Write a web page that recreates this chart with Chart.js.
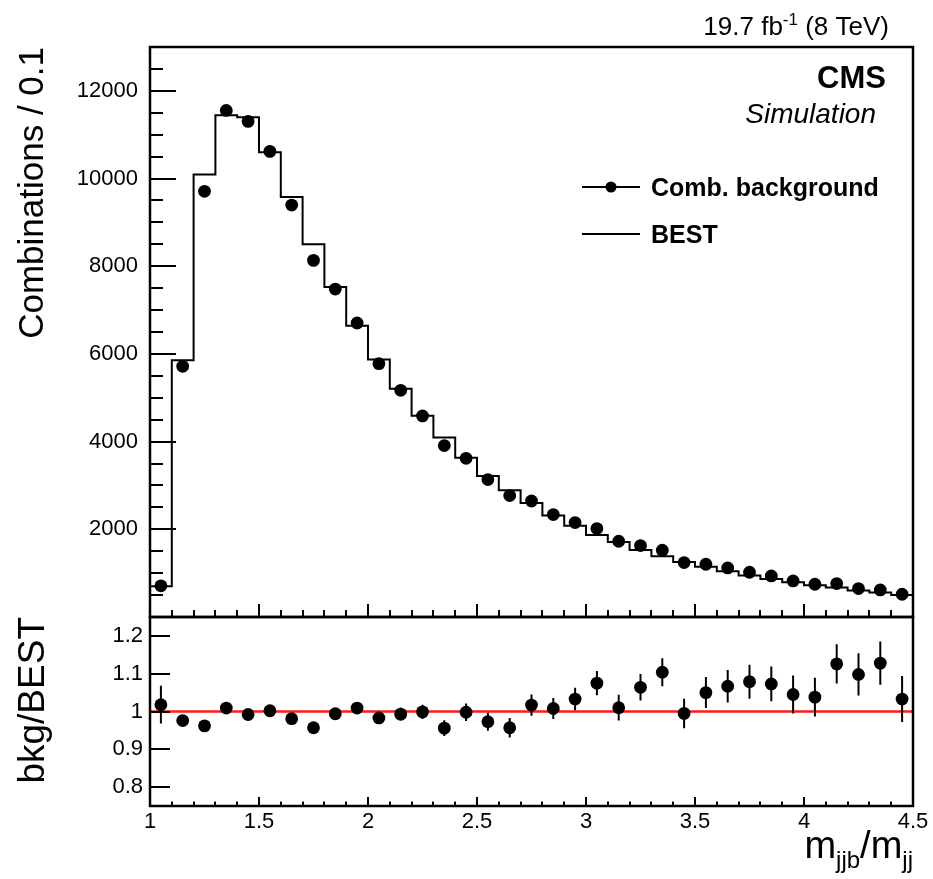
<!DOCTYPE html>
<html><head><meta charset="utf-8">
<script src="https://cdn.jsdelivr.net/npm/chart.js@4.4.1/dist/chart.umd.min.js"></script>
<style>
html,body{margin:0;padding:0;background:#fff;}
#wrap{position:relative;width:933px;height:879px;overflow:hidden;background:#fff;}
#wrap canvas{position:absolute;left:0;}
</style></head><body>
<div id="wrap">
<canvas id="cTop" width="933" height="625" style="top:0px"></canvas>
<canvas id="cBot" width="933" height="279" style="top:600px"></canvas>
</div>
<script>
// ---------------- data ----------------
const binEdges   = [1.0,1.1,1.2,1.3,1.4,1.5,1.6,1.7,1.8,1.9,2.0,2.1,2.2,2.3,2.4,2.5,2.6,2.7,2.8,2.9,3.0,3.1,3.2,3.3,3.4,3.5,3.6,3.7,3.8,3.9,4.0,4.1,4.2,4.3,4.4,4.5];
const binCenters = [1.05,1.15,1.25,1.35,1.45,1.55,1.65,1.75,1.85,1.95,2.05,2.15,2.25,2.35,2.45,2.55,2.65,2.75,2.85,2.95,3.05,3.15,3.25,3.35,3.45,3.55,3.65,3.75,3.85,3.95,4.05,4.15,4.25,4.35,4.45];
const bkgCounts  = [712,5718,9708,11554,11304,10620,9395,8134,7480,6705,5779,5170,4585,3910,3620,3134,2769,2646,2336,2154,2017,1728,1629,1522,1242,1203,1119,1021,937,822,747,763,649,617,519];
const bestCounts = [700,5856,10090,11445,11395,10598,9578,8503,7526,6640,5875,5203,4588,4095,3632,3218,2891,2601,2315,2080,1873,1711,1530,1383,1252,1144,1046,949,867,790,726,670,604,556,502];
const ratioValues = [1.018,0.976,0.962,1.009,0.992,1.002,0.981,0.957,0.994,1.009,0.983,0.993,0.999,0.956,0.998,0.973,0.957,1.017,1.008,1.033,1.075,1.010,1.064,1.104,0.995,1.050,1.067,1.079,1.073,1.045,1.038,1.126,1.098,1.128,1.033];
const ratioErrors = [0.050,0.013,0.011,0.011,0.011,0.011,0.012,0.013,0.014,0.015,0.016,0.017,0.019,0.021,0.023,0.024,0.026,0.028,0.028,0.030,0.032,0.034,0.035,0.037,0.039,0.041,0.043,0.045,0.046,0.050,0.051,0.052,0.056,0.057,0.061];
const countTicks = [2000,4000,6000,8000,10000,12000];
const ratioTicks = [0.8,0.9,1,1.1,1.2];
const massTicks  = [1,1.5,2,2.5,3,3.5,4,4.5];
const referenceLine = [1, 1];

const FONT = '"Liberation Sans", Arial, Helvetica, sans-serif';

// -------------- helpers ----------------
function range(a, b, step) { const r = []; for (let v = a; v <= b + 1e-9; v += step) r.push(+v.toFixed(6)); return r; }
function noPad(s) { s.paddingTop = 0; s.paddingBottom = 0; s.paddingLeft = 0; s.paddingRight = 0; }

const rootFrame = {
  id: 'rootFrame',
  afterDraw(chart, args, o) {
    const {ctx, chartArea: a, scales} = chart;
    const xs = scales.x, ys = scales.y;
    ctx.save();
    ctx.strokeStyle = '#000';
    ctx.lineWidth = 2;
    ctx.lineCap = 'butt';
    ctx.beginPath();
    for (const v of o.xMinor) { const p = Math.round(xs.getPixelForValue(v)); ctx.moveTo(p, a.bottom); ctx.lineTo(p, a.bottom - o.xMinorLen); }
    for (const v of o.xMajor) { const p = Math.round(xs.getPixelForValue(v)); ctx.moveTo(p, a.bottom); ctx.lineTo(p, a.bottom - o.xMajorLen); }
    for (const v of o.yMinor) { const p = Math.round(ys.getPixelForValue(v)); ctx.moveTo(a.left, p); ctx.lineTo(a.left + o.yMinorLen, p); }
    for (const v of o.yMajor) { const p = Math.round(ys.getPixelForValue(v)); ctx.moveTo(a.left, p); ctx.lineTo(a.left + o.yMajorLen, p); }
    ctx.stroke();
    ctx.lineWidth = 2.5;
    ctx.strokeRect(a.left, a.top, a.right - a.left, a.bottom - a.top);
    ctx.restore();
    if (o.texts) o.texts(chart);
  }
};

const errorBars = {
  id: 'errorBars',
  beforeDatasetDraw(chart, args, o) {
    if (args.index !== o.datasetIndex) return;
    const {ctx} = chart; const xs = chart.scales.x, ys = chart.scales.y;
    ctx.save(); ctx.strokeStyle = '#000'; ctx.lineWidth = 2;
    ctx.beginPath();
    binCenters.forEach((c, i) => {
      const px = xs.getPixelForValue(c);
      ctx.moveTo(px, ys.getPixelForValue(ratioValues[i] - ratioErrors[i]));
      ctx.lineTo(px, ys.getPixelForValue(ratioValues[i] + ratioErrors[i]));
    });
    ctx.stroke(); ctx.restore();
  }
};

function topTexts(chart) {
  const ctx = chart.ctx;
  ctx.save();
  ctx.fillStyle = '#000';
  ctx.textBaseline = 'alphabetic';
  // luminosity label
  const f1 = '26px ' + FONT, fs = '17px ' + FONT;
  ctx.font = f1; const wA = ctx.measureText('19.7 fb').width; const wC = ctx.measureText(' (8 TeV)').width;
  ctx.font = fs; const wB = ctx.measureText('-1').width;
  let x = 889 - (wA + wB + wC);
  ctx.textAlign = 'left';
  ctx.font = f1; ctx.fillText('19.7 fb', x, 35); x += wA;
  ctx.font = fs; ctx.fillText('-1', x, 25); x += wB;
  ctx.font = f1; ctx.fillText(' (8 TeV)', x, 35);
  // CMS / Simulation
  ctx.textAlign = 'right';
  ctx.font = 'bold 31px ' + FONT; ctx.fillText('CMS', 886, 88);
  ctx.font = 'italic 28px ' + FONT; ctx.fillText('Simulation', 876, 123);
  // legend
  ctx.strokeStyle = '#000'; ctx.lineWidth = 2;
  ctx.beginPath(); ctx.moveTo(582, 187); ctx.lineTo(640, 187); ctx.moveTo(582, 234); ctx.lineTo(640, 234); ctx.stroke();
  ctx.beginPath(); ctx.arc(611, 187, 5.5, 0, Math.PI * 2); ctx.fill();
  ctx.textAlign = 'left';
  ctx.font = 'bold 25px ' + FONT;
  ctx.fillText('Comb. background', 651, 196);
  ctx.fillText('BEST', 651, 243);
  ctx.restore();
}

function botTexts(chart) {
  const ctx = chart.ctx;
  ctx.save();
  ctx.fillStyle = '#000';
  ctx.textBaseline = 'alphabetic';
  const big = '38px ' + FONT, small = '24px ' + FONT;
  const parts = [['m', big, 0], ['jjb', small, 10], ['/m', big, 0], ['jj', small, 10]];
  let total = 0;
  for (const p of parts) { ctx.font = p[1]; p.push(ctx.measureText(p[0]).width); total += p[3]; }
  let x = 913 - total;
  const base = 258; // local canvas coordinate
  ctx.textAlign = 'left';
  for (const p of parts) { ctx.font = p[1]; ctx.fillText(p[0], x, base + p[2]); x += p[3]; }
  ctx.restore();
}

Chart.register(rootFrame, errorBars);

// -------------- upper panel ----------------
new Chart(document.getElementById('cTop'), {
  type: 'scatter',
  data: {
    datasets: [
      { type: 'line', label: 'BEST',
        data: binEdges.map((e, i) => ({x: e, y: bestCounts[Math.min(i, bestCounts.length - 1)]})),
        stepped: 'before', borderColor: '#000', borderWidth: 2, pointRadius: 0, fill: false, order: 2 },
      { type: 'scatter', label: 'Comb. background',
        data: binCenters.map((c, i) => ({x: c, y: bkgCounts[i]})),
        pointRadius: 6.4, pointHoverRadius: 6.4, backgroundColor: '#000', borderWidth: 0, order: 1 }
    ]
  },
  options: {
    responsive: false, animation: false, devicePixelRatio: 1,
    layout: { padding: { left: 0, right: 20, top: 47, bottom: 8 } },
    plugins: {
      legend: { display: false }, tooltip: { enabled: false },
      errorBars: { datasetIndex: -1 },
      rootFrame: {
        xMajor: massTicks, xMinor: range(1, 4.5, 0.1), xMajorLen: 13, xMinorLen: 7,
        yMajor: countTicks, yMinor: range(500, 12500, 500), yMajorLen: 26, yMinorLen: 13,
        texts: topTexts
      }
    },
    scales: {
      x: { type: 'linear', min: 1, max: 4.5, display: false },
      y: {
        type: 'linear', min: 0, max: 13000,
        afterBuildTicks: s => { s.ticks = countTicks.map(v => ({value: v})); },
        afterFit: s => { s.width = 150; noPad(s); },
        grid: { display: false, drawTicks: false }, border: { display: false },
        ticks: { color: '#000', padding: 12, font: { family: FONT, size: 22 }, callback: v => String(v) },
        title: { display: true, text: 'Combinations / 0.1', align: 'end', color: '#000',
                 font: { family: FONT, size: 35 }, padding: { top: 12, bottom: 0 } }
      }
    }
  }
});

// -------------- ratio panel ----------------
new Chart(document.getElementById('cBot'), {
  type: 'scatter',
  data: {
    datasets: [
      { type: 'line', label: 'unity',
        data: [{x: massTicks[0], y: referenceLine[0]}, {x: massTicks[massTicks.length - 1], y: referenceLine[1]}],
        borderColor: '#ff1a1a', borderWidth: 2.5, pointRadius: 0, fill: false, order: 2 },
      { type: 'scatter', label: 'bkg/BEST',
        data: binCenters.map((c, i) => ({x: c, y: ratioValues[i]})),
        pointRadius: 6.4, pointHoverRadius: 6.4, backgroundColor: '#000', borderWidth: 0, order: 1 }
    ]
  },
  options: {
    responsive: false, animation: false, devicePixelRatio: 1,
    layout: { padding: { left: 0, right: 20, top: 17, bottom: 0 } },
    plugins: {
      legend: { display: false }, tooltip: { enabled: false },
      errorBars: { datasetIndex: 1 },
      rootFrame: {
        xMajor: massTicks, xMinor: range(1, 4.5, 0.1), xMajorLen: 9, xMinorLen: 4.5,
        yMajor: ratioTicks, yMinor: [], yMajorLen: 20, yMinorLen: 0,
        texts: botTexts
      }
    },
    scales: {
      x: {
        type: 'linear', min: 1, max: 4.5,
        afterBuildTicks: s => { s.ticks = massTicks.map(v => ({value: v})); },
        afterFit: s => { s.height = 73; noPad(s); },
        grid: { display: false, drawTicks: false }, border: { display: false },
        ticks: { color: '#000', padding: 3, autoSkip: false, maxRotation: 0, font: { family: FONT, size: 22 }, callback: v => String(v) }
      },
      y: {
        type: 'linear', min: 0.75, max: 1.25,
        afterBuildTicks: s => { s.ticks = ratioTicks.map(v => ({value: v})); },
        afterFit: s => { s.width = 150; noPad(s); },
        grid: { display: false, drawTicks: false }, border: { display: false },
        ticks: { color: '#000', padding: 7, font: { family: FONT, size: 22 }, callback: v => String(v) },
        title: { display: true, text: 'bkg/BEST', align: 'end', color: '#000',
                 font: { family: FONT, size: 37 }, padding: { top: 12, bottom: 0 } }
      }
    }
  }
});
</script>
</body></html>
